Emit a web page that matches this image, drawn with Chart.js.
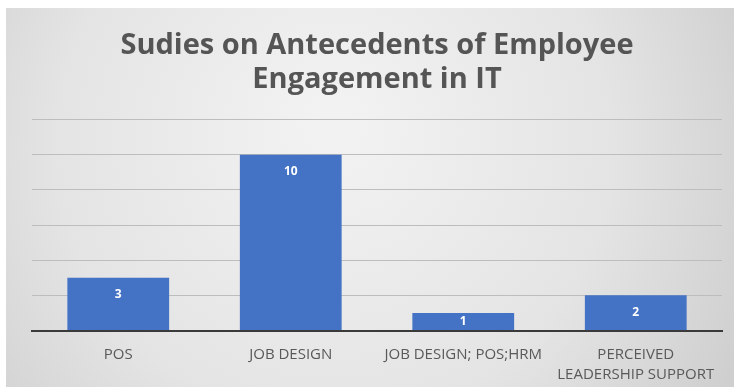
<!DOCTYPE html>
<html>
<head>
<meta charset="utf-8">
<script src="https://cdn.jsdelivr.net/npm/chart.js@4"></script>
<style>
  html, body { margin: 0; padding: 0; background: #fff; }
  #wrap { position: absolute; left: 6px; top: 8px; width: 728px; height: 379px; }
</style>
</head>
<body>
<div id="wrap"><canvas id="chart-studies"></canvas></div>
<script>
// data
const categories = ['POS', 'JOB DESIGN', 'JOB DESIGN; POS;HRM', ['PERCEIVED', 'LEADERSHIP SUPPORT']];
const studyCounts = [3, 10, 1, 2];
const titleLines = ['Sudies on Antecedents of Employee', 'Engagement in IT'];

// gray gradient backdrop like the office chart style
const bgPlugin = {
    id: 'bgFill',
    beforeDraw(chart) {
        const ctx = chart.ctx;
        const w = chart.width, h = chart.height;
        const g = ctx.createRadialGradient(w * 0.45, h * 0.3, 20, w * 0.45, h * 0.4, w * 0.62);
        g.addColorStop(0, '#f2f2f2');
        g.addColorStop(0.6, '#e4e4e4');
        g.addColorStop(1, '#cfcfcf');
        ctx.save();
        ctx.fillStyle = g;
        ctx.fillRect(0, 0, w, h);
        ctx.restore();
    }
};

// white value labels near the top of each bar
const labelPlugin = {
    id: 'barLabels',
    afterDatasetsDraw(chart) {
        const ctx = chart.ctx;
        const meta = chart.getDatasetMeta(0);
        ctx.save();
        ctx.fillStyle = '#ffffff';
        ctx.font = 'bold 12px "Open Sans"';
        ctx.textAlign = 'center';
        ctx.textBaseline = 'middle';
        meta.data.forEach(function (bar, i) {
            const y = Math.min(bar.y + 17, (bar.y + bar.base) / 2);
            ctx.fillText(String(studyCounts[i]), bar.x, y);
        });
        ctx.restore();
    }
};

const StudiesCanvas = document.getElementById('chart-studies');
const StudiesChart = new Chart(StudiesCanvas, {
    type: 'bar',
    data: {
        labels: categories,
        datasets: [{
            label: 'Studies',
            data: studyCounts,
            backgroundColor: '#4472c4',
            categoryPercentage: 0.59,
            barPercentage: 1.0,
        }]
    },
    options: {
        responsive: true,
        maintainAspectRatio: false,
        animation: false,
        layout: {
            padding: { left: 26, right: 12, top: 0, bottom: -12 }
        },
        plugins: {
            legend: { display: false },
            tooltip: { enabled: false },
            title: {
                display: true,
                text: titleLines,
                color: '#555555',
                font: { family: 'Open Sans', size: 29, weight: 'bold', lineHeight: 1.2 },
                padding: { top: 20, bottom: 22 }
            }
        },
        scales: {
            x: {
                grid: { display: false, drawTicks: false },
                border: { display: true, color: '#3a3a3a', width: 2 },
                ticks: {
                    color: '#595959',
                    font: { family: 'Open Sans', size: 15, lineHeight: 1.35 },
                    padding: 14,
                    maxRotation: 0,
                    autoSkip: false
                }
            },
            y: {
                min: 0,
                max: 12,
                ticks: { stepSize: 2, display: false },
                grid: { color: '#bdbdbd', drawTicks: false },
                border: { display: false }
            }
        }
    },
    plugins: [bgPlugin, labelPlugin]
});
</script>
</body>
</html>
